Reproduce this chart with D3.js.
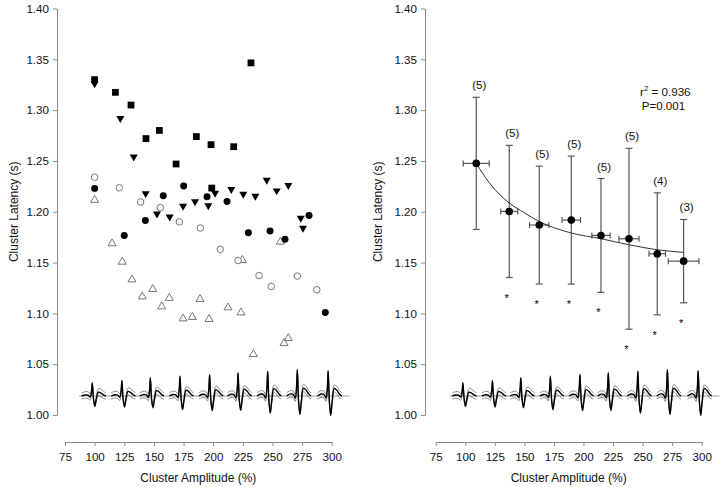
<!DOCTYPE html>
<html><head><meta charset="utf-8">
<script src="https://cdn.jsdelivr.net/npm/d3@7"></script>
<style>
body{margin:0;background:#fff}
svg{display:block}
text{font-family:"Liberation Sans",Arial,Helvetica,sans-serif}
</style>
</head><body>
<svg id="c" width="720" height="487"></svg>
<script>
// ---------- tick labels ----------
const ampTicks = [75,100,125,150,175,200,225,250,275,300];
const latTicks = [1.00,1.05,1.10,1.15,1.20,1.25,1.30,1.35,1.40];

// ---------- left panel: individual clusters ----------
const squareAmp = [100,117.5,130.7,143.3,154.6,168.7,185.8,198.2,198.8,217.3,231.9];
const squareLat = [1.330,1.3175,1.305,1.272,1.280,1.247,1.274,1.266,1.2233,1.264,1.3465];

const triDownAmp = [100,121.7,133,143.1,152.6,163.3,174.6,184.7,195.9,201.6,215.3,225.4,235.6,245.2,253.6,263.4,273.9,275.8];
const triDownLat = [1.326,1.292,1.254,1.218,1.198,1.195,1.2055,1.210,1.206,1.2184,1.222,1.2174,1.2155,1.2312,1.2207,1.226,1.1938,1.184];

const circleAmp = [100,125,142.8,157.9,175.1,194.8,211.7,229.7,248,260.6,280.9,294.6];
const circleLat = [1.223,1.1767,1.1914,1.2158,1.2253,1.2148,1.210,1.1793,1.181,1.173,1.1964,1.1008];

const openCircleAmp = [100,120.8,138.8,155.4,171.5,189.2,206,221,238.7,249,271,287.4];
const openCircleLat = [1.234,1.2236,1.2096,1.204,1.190,1.184,1.163,1.152,1.1372,1.1264,1.1367,1.1232];

const openTriAmp = [100,114.7,123.3,131.5,140.2,149,156.6,163,174.6,182.4,188.9,196.5,212.5,223.5,224.6,233.9,256.7,259.8,263.4];
const openTriLat = [1.2115,1.1688,1.1507,1.1333,1.1166,1.1238,1.1067,1.115,1.0949,1.0963,1.114,1.0943,1.1057,1.1008,1.1524,1.0598,1.1704,1.0706,1.0755];

// ---------- right panel: means ----------
const meanAmp   = [109.3,137.2,162.6,189.7,214.8,238.5,262.4,284.7];
const meanLat   = [1.2476,1.2003,1.1869,1.1918,1.1767,1.1734,1.1586,1.1514];
const latSD     = [0.065,0.065,0.058,0.063,0.056,0.089,0.060,0.041];
const ampSD     = [11,7.2,8.2,7.8,7.7,8.5,7,13];
const nLabels   = ["(5)","(5)","(5)","(5)","(5)","(5)","(4)","(3)"];
const signif    = [false,true,true,true,true,true,true,true];
const fitAmp    = [109.3,120,137.2,150,162.6,190,214.8,238.5,262.4,284.7];
const fitLat    = [1.2476,1.229,1.2086,1.199,1.1904,1.179,1.1735,1.1675,1.1626,1.160];
const statLines = ["= 0.936","P=0.001"];

// ---------- averaged spike waveforms (bottom of both panels) ----------
const waveAmp  = [98,123,147,172,197,221,246,271,297];
const waveUp   = [0.0125,0.0148,0.0174,0.019,0.0207,0.0224,0.0239,0.0256,0.0245];
const waveDown = [0.0099,0.0105,0.0111,0.0131,0.0140,0.0138,0.0165,0.0177,0.0187];
const waveBase = 1.0187;
const waveSpan = [87,315];
const waveT    = [-9,-6,-3.5,-1.8,-0.7,0,1.1,2.2,3.4,5.2,7.5,9.5,11.5];
const waveUpW  = [0,0.08,0.06,-0.08,0.3,1,0,0,0,0.3,0.22,0.08,0];
const waveDnW  = [0,0,0,0,0,0,0.35,1,0.3,0,0,0,0];
const waveSDv  = [0.003,0.0033,0.0033,0.0033,0.002,0.001,0.001,0.001,0.002,0.0035,0.0038,0.0035,0.003];

// ---------- drawing ----------
const svg = d3.select("#c");
const FS = 11.6;
const Y  = d3.scaleLinear().domain([1.0,1.4]).range([415,8.5]);
const XL = d3.scaleLinear().domain([75,300]).range([65,331.7]);
const XR = d3.scaleLinear().domain([75,300]).range([435.7,701.7]);
const axisColor = "#8a8a8a";

function drawAxes(x, axisX, titleX){
  const gy = svg.append("g").attr("transform",`translate(${axisX},0)`)
    .call(d3.axisLeft(Y).tickValues(latTicks).tickFormat(d3.format(".2f"))
      .tickSize(4).tickSizeOuter(0).tickPadding(4));
  const gx = svg.append("g").attr("transform","translate(0,442)")
    .call(d3.axisBottom(x).tickValues(ampTicks).tickFormat(d3.format("d"))
      .tickSize(4).tickSizeOuter(0).tickPadding(7));
  [gy,gx].forEach(g=>{
    g.select(".domain").attr("stroke",axisColor).attr("stroke-width",1);
    g.selectAll(".tick line").attr("stroke",axisColor).attr("stroke-width",1);
    g.selectAll(".tick text").attr("fill","#111").style("font-size",FS+"px")
      .style("font-family",'"Liberation Sans",Arial,sans-serif');
  });
  svg.append("text").attr("transform",`translate(${titleX},${(Y(1.0)+Y(1.4))/2}) rotate(-90)`)
    .attr("text-anchor","middle").attr("dy","0.35em").style("font-size","12px").attr("fill","#111")
    .text("Cluster Latency (s)");
  svg.append("text").attr("x",(x(75)+x(300))/2).attr("y",482)
    .attr("text-anchor","middle").style("font-size","12px").attr("fill","#111")
    .text("Cluster Amplitude (%)");
}

function drawWaves(x){
  const g = svg.append("g");
  g.append("line").attr("x1",x(waveSpan[0])).attr("x2",x(waveSpan[1]))
    .attr("y1",Y(waveBase)).attr("y2",Y(waveBase)).attr("stroke","#999").attr("stroke-width",1);
  const line = d3.line().curve(d3.curveCatmullRom.alpha(0.5));
  waveAmp.forEach((a,i)=>{
    const main = waveT.map((t,k)=>waveUpW[k]*waveUp[i]-waveDnW[k]*waveDown[i]);
    [-1,1].forEach(s=>{
      g.append("path").attr("d",line(waveT.map((t,k)=>[x(a+t),Y(waveBase+main[k]+s*waveSDv[k])])))
        .attr("fill","none").attr("stroke","#666").attr("stroke-width",0.75);
    });
    g.append("path").attr("d",line(waveT.map((t,k)=>[x(a+t),Y(waveBase+main[k])])))
      .attr("fill","none").attr("stroke","#000").attr("stroke-width",1.4);
  });
}

// left panel
drawAxes(XL,57,14);
drawWaves(XL);
const sym = (type,size)=>d3.symbol().type(type).size(size)();
function pts(amp,lat,path,fill,stroke,rot){
  svg.append("g").selectAll("path").data(amp).join("path")
    .attr("d",path)
    .attr("transform",(d,i)=>`translate(${XL(d)},${Y(lat[i])})${rot?" rotate(180)":""}`)
    .attr("fill",fill).attr("stroke",stroke).attr("stroke-width",1);
}
pts(openTriAmp,openTriLat,sym(d3.symbolTriangle,28),"#fff","#777",false);
pts(openCircleAmp,openCircleLat,sym(d3.symbolCircle,34),"#fff","#777",false);
pts(circleAmp,circleLat,sym(d3.symbolCircle,38),"#000","none",false);
pts(triDownAmp,triDownLat,sym(d3.symbolTriangle,28),"#000","none",true);
pts(squareAmp,squareLat,sym(d3.symbolSquare,46),"#000","none",false);

// right panel
drawAxes(XR,425,378);
drawWaves(XR);
const gr = svg.append("g");
const eb = "#555";
meanAmp.forEach((a,i)=>{
  const cx = XR(a), cy = Y(meanLat[i]);
  const hi = Y(meanLat[i]+latSD[i]), lo = Y(meanLat[i]-latSD[i]);
  gr.append("line").attr("x1",cx).attr("x2",cx).attr("y1",hi).attr("y2",lo).attr("stroke",eb).attr("stroke-width",1.2);
  [hi,lo].forEach(v=>gr.append("line").attr("x1",cx-3.5).attr("x2",cx+3.5).attr("y1",v).attr("y2",v).attr("stroke",eb).attr("stroke-width",1.2));
  const l = XR(a-ampSD[i]), r = XR(a+ampSD[i]);
  gr.append("line").attr("x1",l).attr("x2",r).attr("y1",cy).attr("y2",cy).attr("stroke",eb).attr("stroke-width",1.2);
  [l,r].forEach(v=>gr.append("line").attr("x1",v).attr("x2",v).attr("y1",cy-3).attr("y2",cy+3).attr("stroke",eb).attr("stroke-width",1.2));
  gr.append("text").attr("x",cx+3).attr("y",hi-8).attr("text-anchor","middle")
    .style("font-size",FS+"px").attr("fill","#111").text(nLabels[i]);
  if(signif[i]) gr.append("text").attr("x",cx-2.5).attr("y",lo+24).attr("text-anchor","middle")
    .style("font-size","11px").attr("fill","#000").text("*");
});
gr.append("path").attr("d",d3.line().curve(d3.curveMonotoneX)(fitAmp.map((a,i)=>[XR(a),Y(fitLat[i])])))
  .attr("fill","none").attr("stroke","#333").attr("stroke-width",1);
gr.selectAll("circle").data(meanAmp).join("circle")
  .attr("cx",d=>XR(d)).attr("cy",(d,i)=>Y(meanLat[i])).attr("r",3.8).attr("fill","#000");

const st = svg.append("text").attr("x",640).attr("y",95.7).style("font-size",FS+"px").attr("fill","#111");
st.append("tspan").text("r");
st.append("tspan").attr("dy",-4.5).style("font-size","8px").text("2");
st.append("tspan").attr("dy",4.5).text(" "+statLines[0]);
svg.append("text").attr("x",641.7).attr("y",109.7).style("font-size",FS+"px").attr("fill","#111").text(statLines[1]);
</script>
</body></html>
